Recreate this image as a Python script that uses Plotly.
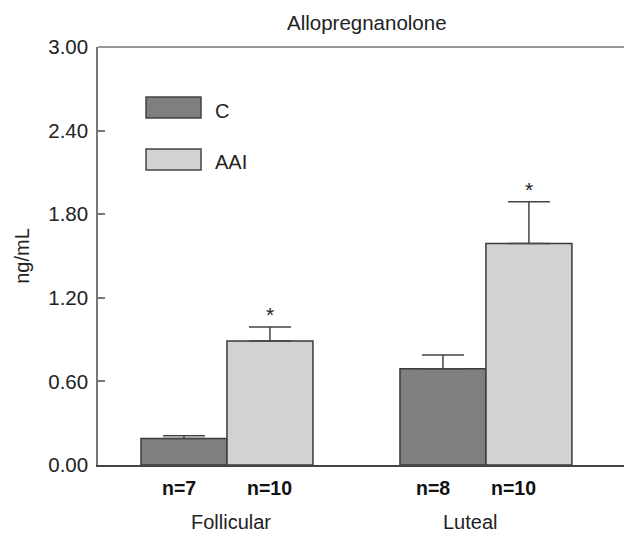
import plotly.graph_objects as go

# ---- data ----
categories = ["Follicular", "Luteal"]
series_names = ["C", "AAI"]
c_values = [0.19, 0.69]
c_errors = [0.02, 0.10]
aai_values = [0.89, 1.59]
aai_errors = [0.10, 0.30]
c_n = ["n=7", "n=8"]
aai_n = ["n=10", "n=10"]
significant = [True, True]
y_ticks = [0.0, 0.6, 1.2, 1.8, 2.4, 3.0]
y_ticklabels = ["0.00", "0.60", "1.20", "1.80", "2.40", "3.00"]

FONT = "Liberation Sans, Arial, Helvetica, sans-serif"
FS = 20
C_COLOR = "#7f7f7f"
AAI_COLOR = "#d2d2d2"
EDGE = "#3a3a3a"

# page body has an 8px default margin -> compensate
OFF = 8
W, H = 632 - OFF, 533 - OFF
L, R, T, B = 98 - OFF, 0, 47 - OFF, 68
PW, PH = W - L - R, H - T - B

fig = go.Figure()
fig.add_trace(go.Bar(
    name=series_names[0], x=categories, y=c_values,
    marker=dict(color=C_COLOR, line=dict(color=EDGE, width=1.5)),
    error_y=dict(type="data", array=c_errors, arrayminus=[0] * len(c_errors),
                 symmetric=False, color="#444444", thickness=1.5, width=21),
    showlegend=False,
))
fig.add_trace(go.Bar(
    name=series_names[1], x=categories, y=aai_values,
    marker=dict(color=AAI_COLOR, line=dict(color=EDGE, width=1.5)),
    error_y=dict(type="data", array=aai_errors, arrayminus=[0] * len(aai_errors),
                 symmetric=False, color="#444444", thickness=1.5, width=21),
    showlegend=False,
))

annotations = []
off = 0.166
n_x_shift_c = [-0.02, -0.04]
n_x_shift_a = [0.0, -0.06]
for i in range(len(categories)):
    annotations.append(dict(x=i - off + n_x_shift_c[i], y=0, xref="x", yref="y", text="<b>%s</b>" % c_n[i],
                            showarrow=False, yanchor="middle", yshift=-23,
                            font=dict(family=FONT, size=19.5, color="#111")))
    annotations.append(dict(x=i + off + n_x_shift_a[i], y=0, xref="x", yref="y", text="<b>%s</b>" % aai_n[i],
                            showarrow=False, yanchor="middle", yshift=-23,
                            font=dict(family=FONT, size=19.5, color="#111")))
    annotations.append(dict(x=i + [0.015, -0.058][i], y=0, xref="x", yref="y", text=categories[i],
                            showarrow=False, yanchor="middle", yshift=-57,
                            font=dict(family=FONT, size=FS, color="#222")))
    if significant[i]:
        annotations.append(dict(x=i + off, y=aai_values[i] + aai_errors[i], xref="x", yref="y",
                                text="*", showarrow=False, yanchor="bottom", yshift=-1,
                                font=dict(family=FONT, size=21, color="#222")))

def px2paper_x(px):
    return (px - OFF - L) / PW

def px2paper_y(py):
    return (H - B - (py - OFF)) / PH

shapes = []
legend_rows = [(series_names[0], C_COLOR, 97, 118, 111), (series_names[1], AAI_COLOR, 149, 170, 162)]
for name, col, y0, y1, ty in legend_rows:
    shapes.append(dict(type="rect", xref="paper", yref="paper",
                       x0=px2paper_x(146), x1=px2paper_x(201), y0=px2paper_y(y1), y1=px2paper_y(y0),
                       fillcolor=col, line=dict(color="#444", width=1.5)))
    annotations.append(dict(x=px2paper_x(213), y=px2paper_y(ty), xref="paper", yref="paper",
                            text=name, showarrow=False, xanchor="left", yanchor="middle",
                            font=dict(family=FONT, size=FS, color="#222")))

shapes.append(dict(type="line", xref="paper", yref="paper", x0=0, x1=1, y0=1, y1=1,
                   line=dict(color="#9a9a9a", width=2)))

annotations.append(dict(x=px2paper_x(367), y=px2paper_y(22), xref="paper", yref="paper",
                        text="Allopregnanolone", showarrow=False, xanchor="center", yanchor="middle",
                        font=dict(family=FONT, size=20.5, color="#222")))

fig.update_layout(
    width=W, height=H,
    margin=dict(l=L, r=R, t=T, b=B, pad=0),
    paper_bgcolor="white", plot_bgcolor="white",
    barmode="group", bargap=0.336, bargroupgap=0,
    font=dict(family=FONT, size=FS, color="#222"),
    xaxis=dict(range=[-0.498, 1.564], showgrid=False, zeroline=False,
               showline=True, linecolor="#444", linewidth=2,
               showticklabels=False, ticks=""),
    yaxis=dict(range=[0, 3.0], tickvals=y_ticks, ticktext=y_ticklabels,
               showgrid=False, zeroline=False, showline=True, linecolor="#777", linewidth=1.5,
               ticks="inside", ticklen=7, tickcolor="#777", tickwidth=1.5,
               ticklabelstandoff=4,
               tickfont=dict(family=FONT, size=20.5, color="#222"),
               title=dict(text="ng/mL", standoff=13, font=dict(family=FONT, size=FS, color="#222"))),
    shapes=shapes, annotations=annotations,
)

fig.write_html("out.html")
